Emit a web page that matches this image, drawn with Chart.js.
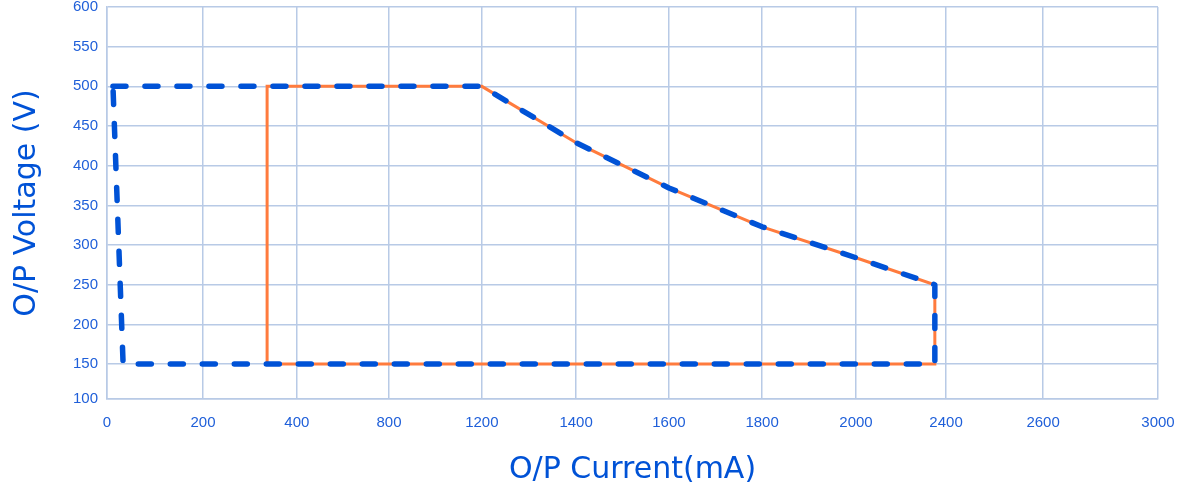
<!DOCTYPE html>
<html>
<head>
<meta charset="utf-8">
<script src="https://cdn.jsdelivr.net/npm/chart.js@4"></script>
<style>
  body { margin: 0; background: #fff; }
</style>
</head>
<body>
<canvas id="myChart" width="1185" height="489"></canvas>
<script>
// operating envelope, current in mA and voltage in V
let ratedCurrent = [457, 457, 1070, 1339, 1604, 1870, 2138, 2363, 2363, 457]
let ratedVoltage = [150, 500, 500, 429, 372, 323, 284, 250, 150, 150]

let limitCurrent = [17, 1070, 1339, 1604, 1870, 2138, 2363, 2363, 46, 17]
let limitVoltage = [500, 500, 429, 372, 323, 284, 250, 150, 150, 500]

// axis ticks: where the grid line sits and what it says
let currentTickAt = [0, 274, 542, 805, 1070, 1339, 1604, 1870, 2138, 2395, 2672, 3000]
let currentTickText = ['0', '200', '400', '800', '1200', '1400', '1600', '1800', '2000', '2400', '2600', '3000']
let voltageFloor = 106
let voltageTickText = ['100', '150', '200', '250', '300', '350', '400', '450', '500', '550', '600']

let blue = '#0052d6'
let textBlue = '#1f5fd9'
let gridColor = '#b8cae6'

function toPoints(xs, ys) {
    return xs.map((x, i) => ({ x: x, y: ys[i] }))
}

let ctx = document.querySelector('#myChart')

let graphData = {
    type: 'scatter',
    data: {
        datasets: [{
            label: 'limit',
            data: toPoints(limitCurrent, limitVoltage),
            showLine: true,
            borderColor: blue,
            borderWidth: 5.5,
            borderDash: [13, 19],
            borderCapStyle: 'round',
            borderJoinStyle: 'round',
            pointRadius: 0,
            tension: 0
        }, {
            label: 'rated',
            data: toPoints(ratedCurrent, ratedVoltage),
            showLine: true,
            borderColor: '#ff7b3d',
            borderWidth: 3,
            pointRadius: 0,
            tension: 0
        }]
    },
    options: {
        responsive: false,
        animation: false,
        layout: { padding: { top: 7, right: 27, left: 0, bottom: 0 } },
        plugins: { legend: { display: false }, tooltip: { enabled: false } },
        scales: {
            x: {
                type: 'linear',
                min: 0,
                max: 3000,
                afterBuildTicks: s => { s.ticks = currentTickAt.map(v => ({ value: v })) },
                afterFit: s => {
                    s.height = 90
                    s.paddingLeft = 0
                    s.paddingRight = 0
                },
                grid: { color: gridColor, lineWidth: 1.5, drawTicks: false },
                border: { color: gridColor, width: 1.5 },
                ticks: {
                    autoSkip: false,
                    maxRotation: 0,
                    padding: 15,
                    color: textBlue,
                    font: { family: 'Liberation Sans', size: 15 },
                    callback: (v, i) => currentTickText[i]
                },
                title: {
                    display: true,
                    text: 'O/P Current(mA)',
                    color: blue,
                    padding: { top: 0, bottom: 1 },
                    font: { family: 'DejaVu Sans', size: 30 }
                }
            },
            y: {
                type: 'linear',
                min: voltageFloor,
                max: 600,
                afterBuildTicks: s => {
                    s.ticks = voltageTickText.map(t => ({ value: Math.max(+t, voltageFloor) }))
                },
                afterFit: s => {
                    s.width = 107
                    s.paddingTop = 0
                    s.paddingBottom = 0
                },
                grid: { color: gridColor, lineWidth: 1.5, drawTicks: false },
                border: { color: gridColor, width: 1.5 },
                ticks: {
                    padding: 9,
                    color: textBlue,
                    font: { family: 'Liberation Sans', size: 15 },
                    callback: (v, i) => voltageTickText[i]
                },
                title: {
                    display: true,
                    text: 'O/P Voltage (V)',
                    color: blue,
                    padding: { top: 9, bottom: 0 },
                    font: { family: 'DejaVu Sans', size: 30 }
                }
            }
        }
    }
}

let myChart = new Chart(ctx, graphData)
</script>
</body>
</html>
